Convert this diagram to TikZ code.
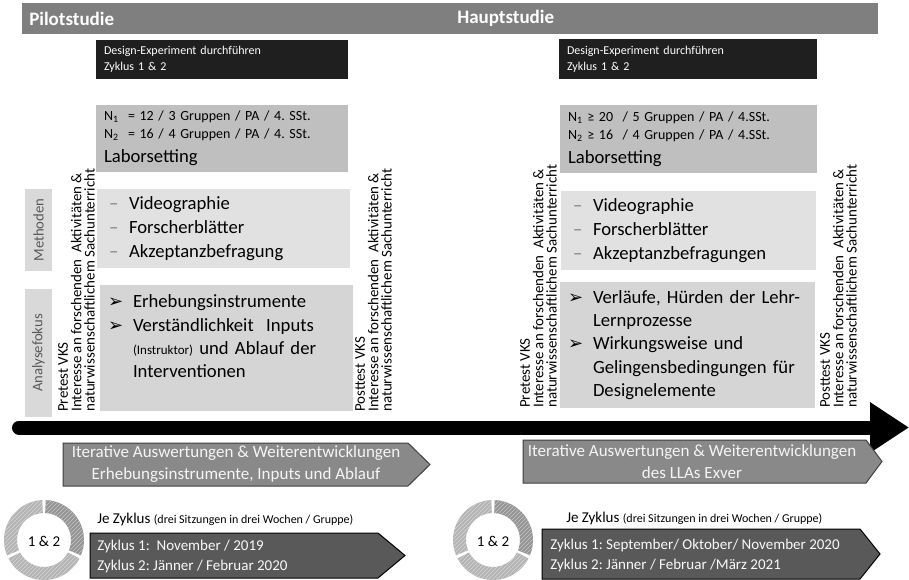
\documentclass[tikz,border=0pt]{standalone}
\usepackage{fontspec}
\setmainfont{Carlito}
\newfontfamily\dingfont{DejaVu Sans}
\usetikzlibrary{arrows.meta,patterns}
\frenchspacing

\definecolor{headgray}{HTML}{7F7F7F}
\definecolor{boxblack}{HTML}{1F1F1F}
\definecolor{boxgray}{HTML}{BFBFBF}
\definecolor{methgray}{HTML}{E1E1E1}
\definecolor{focusgray}{HTML}{D5D5D5}
\definecolor{sidegray}{HTML}{D9D9D9}
\definecolor{sidetext}{HTML}{595959}
\definecolor{chevgray}{HTML}{898989}
\definecolor{chevline}{HTML}{3F3F3F}
\definecolor{chevdarkgray}{HTML}{595959}
\definecolor{dashgray}{HTML}{7F7F7F}
\definecolor{ringdark}{HTML}{959595}
\definecolor{ringlight}{HTML}{B4B4B4}

\newcommand{\methdash}{\makebox[15pt][l]{\textcolor{dashgray}{--}}}
\newcommand{\arrbul}{\makebox[18.75pt][l]{{\dingfont\fontsize{13.5}{12}\selectfont\char"27A2}}}
\newcommand{\arrind}{\hspace*{18.75pt}}

\begin{document}
\begin{tikzpicture}[
    x=0.75pt, y=-0.75pt,
    bar/.style={fill=headgray, minimum width=642pt, minimum height=23.25pt, inner sep=0},
    bartext/.style={text=white, font=\fontsize{14.25}{16}\selectfont\bfseries, anchor=west, inner sep=0},
    darkbox/.style={fill=boxblack, text=white, font=\fontsize{9}{12}\selectfont, align=left, inner xsep=6pt, inner ysep=0},
    nbox/.style={fill=boxgray, font=\fontsize{10.5}{13.5}\selectfont, align=left, inner xsep=6pt, inner ysep=0},
    methbox/.style={fill=methgray, font=\fontsize{14}{18}\selectfont, align=left, inner xsep=9pt, inner ysep=0},
    focusbox/.style={fill=focusgray, font=\fontsize{14}{17.5}\selectfont, align=left, inner xsep=6pt, inner ysep=0},
    sidebox/.style={fill=sidegray, text=sidetext, font=\fontsize{11}{13}\selectfont, rotate=90, minimum height=20.25pt, inner sep=0},
    testtext/.style={font=\fontsize{11.2}{10}\selectfont, align=left, rotate=90, anchor=north west, inner sep=0},
    chevlight/.style={fill=chevgray, draw=chevline, line width=0.75pt},
    chevdark/.style={fill=chevdarkgray, draw=black, line width=0.75pt},
    chevtext/.style={text=white!92!gray, font=\fontsize{12.75}{16.5}\selectfont, align=center, inner sep=0},
    cycletext/.style={text=white!95!gray, font=\fontsize{11.25}{15}\selectfont, align=left, anchor=west, inner sep=0},
    pertext/.style={font=\fontsize{11.25}{13}\selectfont, anchor=west, inner sep=0},
    ringtext/.style={font=\fontsize{11.25}{13}\selectfont, inner sep=0}
]
\useasboundingbox (0,0) rectangle (909,580);

% header
\node[bar] (head) at (450,18.5) {};
\node[bartext] (pilot) at (29,18.5) {Pilotstudie};
\node[bartext] (haupt) at (457,18.5) {Hauptstudie};

% Pilotstudie
\node[darkbox, text width=177pt, minimum height=29.25pt] (designa) at (222,59.5) {Design-Experiment durchführen\\Zyklus 1 \& 2};
\node[nbox, text width=177pt, minimum height=50.25pt] (samplea) at (222,138.5)
  {N\textsubscript{1}\ \ = 12 / 3 Gruppen / PA / 4. SSt.\\N\textsubscript{2}\ \ = 16 / 4 Gruppen / PA / 4. SSt.\\[4.5pt]{\fontsize{14}{16}\selectfont Laborsetting}};
\node[methbox, text width=171.75pt, minimum height=59.25pt] (metha) at (223.5,228.5)
  {\methdash Videographie\\\methdash Forscherblätter\\\methdash Akzeptanzbefragung};
\node[focusbox, text width=177.75pt, minimum height=94.5pt] (focusa) at (226.5,348)
  {\arrbul Erhebungsinstrumente\\\arrbul Verständlichkeit\ \ Inputs\\\arrind{\fontsize{9.75}{12}\selectfont(Instruktor)} und Ablauf der\\\arrind Interventionen\\\mbox{}};

\node[sidebox, minimum width=61.5pt] (methlabel) at (38.5,230) {Methoden};
\node[sidebox, minimum width=96pt] (focuslabel) at (38.5,353) {Analysefokus};

\node[testtext] (pretesta) at (58,412) {Pretest VKS\\Interesse an forschenden\ \ Aktivitäten \&\\naturwissenschaftlichem Sachunterricht};
\node[testtext] (posttesta) at (355,412) {Posttest VKS\\Interesse an forschenden\ \ Aktivitäten \&\\naturwissenschaftlichem Sachunterricht};

% Hauptstudie
\node[darkbox, text width=181.5pt, minimum height=30pt] (designb) at (688,59) {Design-Experiment durchführen\\Zyklus 1 \& 2};
\node[nbox, text width=180.75pt, minimum height=51pt] (sampleb) at (688.5,139)
  {N\textsubscript{1} ≥ 20\ \ / 5 Gruppen / PA / 4.SSt.\\N\textsubscript{2} ≥ 16\ \ / 4 Gruppen / PA / 4.SSt.\\[4.5pt]{\fontsize{14}{16}\selectfont Laborsetting}};
\node[methbox, text width=173.25pt, minimum height=59.25pt] (methb) at (688.5,230.5)
  {\methdash Videographie\\\methdash Forscherblätter\\\methdash Akzeptanzbefragungen};
\node[focusbox, text width=179.25pt, minimum height=94.5pt] (focusb) at (687.5,345)
  {\arrbul Verläufe, Hürden der Lehr-\\\arrind Lernprozesse\\\arrbul Wirkungsweise und\\\arrind Gelingensbedingungen für\\\arrind Designelemente};

\node[testtext] (pretestb) at (520,408) {Pretest VKS\\Interesse an forschenden\ \ Aktivitäten \&\\naturwissenschaftlichem Sachunterricht};
\node[testtext] (posttestb) at (820,408) {Posttest VKS\\Interesse an forschenden\ \ Aktivitäten \&\\naturwissenschaftlichem Sachunterricht};

% timeline
\coordinate (tlstart) at (19,427.5);
\coordinate (tlend) at (909,427.5);
\draw[line width=10.5pt, line cap=round, -{Triangle[length=29.25pt, width=36pt]}] (tlstart) -- (tlend);

% iterations
\draw[chevlight] (63,443) -- (408,443) -- (430,464.5) -- (408,486) -- (63,486) -- cycle;
\node[chevtext] (itera) at (236,464.5) {Iterative Auswertungen \& Weiterentwicklungen\\Erhebungsinstrumente, Inputs und Ablauf};
\draw[chevlight] (523,440) -- (866,440) -- (882,461.5) -- (866,483) -- (523,483) -- cycle;
\node[chevtext] (iterb) at (692,461.5) {Iterative Auswertungen \& Weiterentwicklungen\\des LLAs Exver};

% cycles
\foreach \cx/\cy in {44/540, 493/540} {
  \begin{scope}[shift={(\cx,\cy)}, yscale=-1]
    \foreach \from/\to/\tone in {-22.5/87.5/ringdark, 92.5/202.5/ringlight, 207.5/332.5/ringlight} {
      \path[fill=\tone, postaction={pattern=north east lines, pattern color=white!45!\tone}]
        (\from:40) arc[start angle=\from, end angle=\to, radius=40] -- (\to:27)
        arc[start angle=\to, end angle=\from, radius=27] -- cycle;
    }
  \end{scope}
}
\node[ringtext] (ringa) at (44,541) {1 \& 2};
\node[ringtext] (ringb) at (493,541) {1 \& 2};

\node[pertext] (pera) at (97,519) {Je Zyklus {\fontsize{9}{11}\selectfont(drei Sitzungen in drei Wochen / Gruppe)}};
\node[pertext] (perb) at (566,518) {Je Zyklus {\fontsize{9}{11}\selectfont(drei Sitzungen in drei Wochen / Gruppe)}};

\draw[chevdark] (90,533) -- (378,533) -- (405,555.5) -- (378,578) -- (90,578) -- cycle;
\node[cycletext] (datesa) at (97,556) {Zyklus 1:\ \ November / 2019\\Zyklus 2: Jänner / Februar 2020};
\draw[chevdark] (542,529) -- (860,529) -- (880,554) -- (860,579) -- (542,579) -- cycle;
\node[cycletext] (datesb) at (550,555) {Zyklus 1: September/ Oktober/ November 2020\\Zyklus 2: Jänner / Februar /März 2021};
\end{tikzpicture}
\end{document}
